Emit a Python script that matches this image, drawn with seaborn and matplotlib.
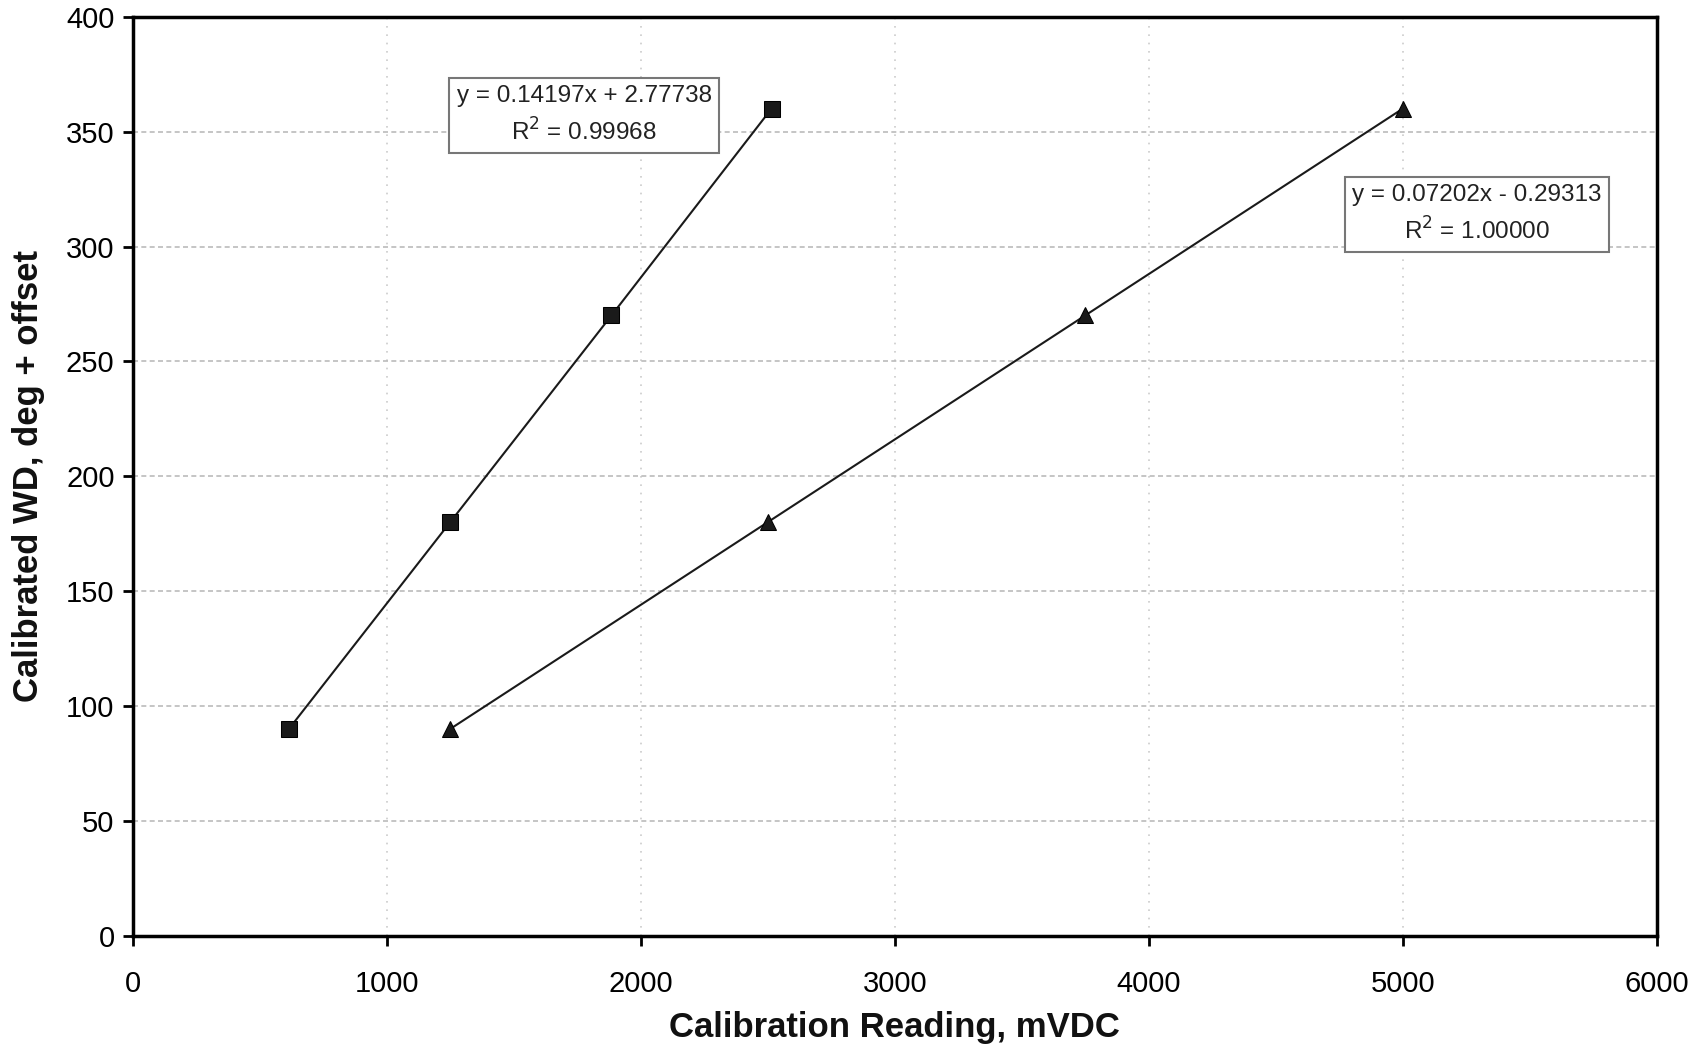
import matplotlib
matplotlib.use("Agg")
import matplotlib.pyplot as plt
import seaborn as sns
import pandas as pd

# données
x_carre = [615, 1250, 1885, 2515]
y_carre = [90, 180, 270, 360]
x_tri = [1250, 2500, 3750, 5000]
y_tri = [90, 180, 270, 360]

eq_carre = "y = 0.14197x + 2.77738\nR$^2$ = 0.99968"
eq_tri = "y = 0.07202x - 0.29313\nR$^2$ = 1.00000"

sns.set_theme(style="white")
plt.rcParams['font.family'] = ['Liberation Sans', 'DejaVu Sans']

df = pd.concat([
    pd.DataFrame({'x': x_carre, 'y': y_carre, 'serie': 'carre'}),
    pd.DataFrame({'x': x_tri, 'y': y_tri, 'serie': 'tri'}),
])

fig, ax = plt.subplots(figsize=(17.01, 10.49), dpi=100)
fig.subplots_adjust(left=0.078, right=0.974, top=0.984, bottom=0.108)

sns.lineplot(data=df, x='x', y='y', hue='serie', style='serie',
             markers={'carre': 's', 'tri': '^'}, dashes=False,
             palette={'carre': '#1a1a1a', 'tri': '#1a1a1a'},
             markersize=11, linewidth=1.5, legend=False, ax=ax,
             markeredgecolor='black')

ax.set_xlim(0, 6000)
ax.set_ylim(0, 400)
ax.set_xticks(range(0, 6001, 1000))
ax.set_yticks(range(0, 401, 50))

ax.grid(axis='y', color='#bbbbbb', linestyle=(0, (3, 2)), linewidth=1.2)
ax.grid(axis='x', color='#cccccc', linestyle=(0, (1, 4)), linewidth=1.2)
ax.set_axisbelow(True)

for s in ax.spines.values():
    s.set_color('black')
    s.set_linewidth(2.5)

ax.tick_params(axis='both', which='major', length=7, width=2, color='black',
               direction='out', labelsize=21, labelcolor='black',
               bottom=True, left=True)
ax.tick_params(axis='x', pad=18)
ax.tick_params(axis='y', pad=6)

ax.set_xlabel('Calibration Reading, mVDC', fontsize=25, fontweight='bold',
              labelpad=9, color='#111111')
ax.set_ylabel('Calibrated WD, deg + offset', fontsize=25, fontweight='bold',
              labelpad=15, color='#111111')

boite = dict(boxstyle='square,pad=0.3', facecolor='white', edgecolor='#777777', linewidth=1.5)
ax.text(1777, 357, eq_carre, ha='center', va='center', fontsize=17.5,
        linespacing=1.5, bbox=boite, color='#222222')
ax.text(5291, 314, eq_tri, ha='center', va='center', fontsize=17.5,
        linespacing=1.5, bbox=boite, color='#222222')

plt.savefig('out.png', dpi=100)
